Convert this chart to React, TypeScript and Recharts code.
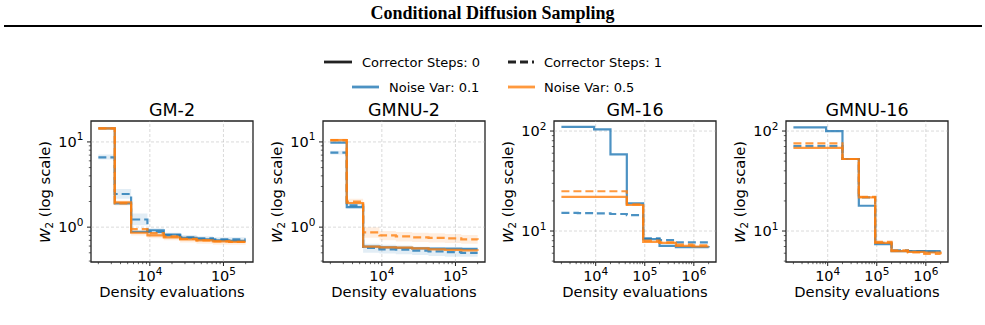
import React from 'react';
import { ComposedChart, Line, Area, XAxis, YAxis, ReferenceLine, ReferenceArea } from 'recharts';

const BLUE = '#1f77b4';
const ORANGE = '#ff7f0e';
const FONT = '"DejaVu Sans", sans-serif';

// ---------- data ----------
const xSmall = [2000, 3340, 5570, 9280, 15500, 25800, 43100, 71900, 119900, 200000];
const xLarge = [2000, 4310, 9280, 20000, 43100, 92800, 200000, 431000, 928000, 2000000];

const xTicksSmall = [2000, 3000, 4000, 5000, 6000, 7000, 8000, 9000, 10000, 20000, 30000, 40000, 50000, 60000, 70000, 80000, 90000, 100000, 200000];
const xTicksLarge = [2000, 3000, 4000, 5000, 6000, 7000, 8000, 9000, 10000, 20000, 30000, 40000, 50000, 60000, 70000, 80000, 90000, 100000, 200000, 300000, 400000, 500000, 600000, 700000, 800000, 900000, 1000000, 2000000];
const yTicksSmall = [0.4, 0.5, 0.6, 0.7, 0.8, 0.9, 1, 2, 3, 4, 5, 6, 7, 8, 9, 10];
const yTicksLarge = [5, 6, 7, 8, 9, 10, 20, 30, 40, 50, 60, 70, 80, 90, 100];

// GM-2
const gm2BlueSolid = [14.4, 1.9, 0.88, 0.92, 0.82, 0.75, 0.72, 0.7, 0.69, 0.69];
const gm2BlueDashed = [6.6, 2.45, 1.23, 0.88, 0.8, 0.76, 0.74, 0.72, 0.72, 0.72];
const gm2OrangeSolid = [14.4, 1.95, 0.86, 0.8, 0.76, 0.72, 0.7, 0.68, 0.67, 0.67];
const gm2OrangeDashed = [14.4, 1.9, 0.95, 0.85, 0.78, 0.73, 0.7, 0.68, 0.67, 0.67];
const gm2BlueDashedLo = [6.2, 2.15, 1.05, 0.8, 0.74, 0.71, 0.69, 0.67, 0.67, 0.67];
const gm2BlueDashedHi = [7.1, 2.8, 1.45, 0.97, 0.86, 0.81, 0.78, 0.76, 0.76, 0.76];
const gm2OrangeSolidLo = [13.8, 1.8, 0.8, 0.74, 0.7, 0.66, 0.64, 0.62, 0.62, 0.62];
const gm2OrangeSolidHi = [15.0, 2.05, 0.92, 0.86, 0.82, 0.78, 0.75, 0.73, 0.72, 0.72];

// GMNU-2
const gmnu2BlueSolid = [9.8, 1.72, 0.59, 0.58, 0.57, 0.565, 0.56, 0.56, 0.555, 0.555];
const gmnu2BlueDashed = [7.5, 1.8, 0.57, 0.55, 0.545, 0.53, 0.52, 0.51, 0.5, 0.5];
const gmnu2OrangeSolid = [10.5, 1.92, 0.59, 0.58, 0.575, 0.565, 0.55, 0.54, 0.535, 0.53];
const gmnu2OrangeDashed = [10.5, 2.0, 0.87, 0.8, 0.78, 0.76, 0.75, 0.74, 0.72, 0.71];
const gmnu2BlueDashedLo = [7.1, 1.65, 0.5, 0.49, 0.48, 0.47, 0.46, 0.45, 0.45, 0.45];
const gmnu2BlueDashedHi = [7.9, 1.95, 0.64, 0.62, 0.61, 0.59, 0.58, 0.57, 0.56, 0.56];
const gmnu2OrangeDashedLo = [10.0, 1.85, 0.75, 0.7, 0.68, 0.67, 0.66, 0.65, 0.64, 0.63];
const gmnu2OrangeDashedHi = [11.0, 2.15, 1.0, 0.9, 0.88, 0.86, 0.85, 0.83, 0.81, 0.8];

// GM-16
const gm16BlueSolid = [110, 110, 104, 58.5, 18.9, 8.3, 7.1, 6.9, 6.9, 6.85];
const gm16BlueDashed = [15.2, 15.1, 15.0, 14.8, 14.4, 8.45, 8.1, 7.7, 7.7, 7.7];
const gm16OrangeSolid = [22.0, 22.0, 22.0, 22.0, 18.2, 7.8, 7.6, 7.1, 7.0, 7.0];
const gm16OrangeDashed = [25.0, 25.0, 25.0, 25.0, 18.5, 8.0, 7.7, 7.3, 7.2, 7.2];

// GMNU-16
const gmnu16BlueSolid = [109, 109, 100, 52.5, 17.9, 7.4, 6.3, 6.3, 6.3, 6.3];
const gmnu16BlueDashed = [70.8, 70.8, 70.8, 52.5, 21.7, 7.6, 6.4, 6.3, 6.2, 6.2];
const gmnu16OrangeSolid = [68, 68, 68, 52.5, 21.7, 7.6, 6.3, 6.2, 6.1, 6.0];
const gmnu16OrangeDashed = [75.3, 75.3, 75.3, 52.5, 22.0, 7.8, 6.4, 6.1, 5.9, 5.85];

const panelTitles = ['GM-2', 'GMNU-2', 'GM-16', 'GMNU-16'];

// ---------- layout ----------
const BOX_W = 162;
const BOX_H = 141;
const BOX_TOP = 121;
const ML = 60;
const MT = 10;
const MR = 10;
const XAX_H = 30;

type Band = { key: string; lo: number[]; hi: number[]; color: string };
type Cfg = {
  title: string;
  left: number;
  xs: number[];
  xDomain: [number, number];
  xTicks: number[];
  xMajors: number[];
  yDomain: [number, number];
  yTicks: number[];
  yMajors: number[];
  bs: number[];
  bd: number[];
  os: number[];
  od: number[];
  bands: Band[];
};

const panels: Cfg[] = [
  {
    title: panelTitles[0], left: 91, xs: xSmall, xDomain: [1589, 251800], xTicks: xTicksSmall, xMajors: [10000, 100000],
    yDomain: [0.39, 17.6], yTicks: yTicksSmall, yMajors: [1, 10],
    bs: gm2BlueSolid, bd: gm2BlueDashed, os: gm2OrangeSolid, od: gm2OrangeDashed,
    bands: [
      { key: 'b1', lo: gm2BlueDashedLo, hi: gm2BlueDashedHi, color: BLUE },
      { key: 'b2', lo: gm2OrangeSolidLo, hi: gm2OrangeSolidHi, color: ORANGE },
    ],
  },
  {
    title: panelTitles[1], left: 323, xs: xSmall, xDomain: [1589, 251800], xTicks: xTicksSmall, xMajors: [10000, 100000],
    yDomain: [0.39, 17.6], yTicks: yTicksSmall, yMajors: [1, 10],
    bs: gmnu2BlueSolid, bd: gmnu2BlueDashed, os: gmnu2OrangeSolid, od: gmnu2OrangeDashed,
    bands: [
      { key: 'b1', lo: gmnu2BlueDashedLo, hi: gmnu2BlueDashedHi, color: BLUE },
      { key: 'b2', lo: gmnu2OrangeDashedLo, hi: gmnu2OrangeDashedHi, color: ORANGE },
    ],
  },
  {
    title: panelTitles[2], left: 554, xs: xLarge, xDomain: [1413, 2830000], xTicks: xTicksLarge, xMajors: [10000, 100000, 1000000],
    yDomain: [4.9, 126], yTicks: yTicksLarge, yMajors: [10, 100],
    bs: gm16BlueSolid, bd: gm16BlueDashed, os: gm16OrangeSolid, od: gm16OrangeDashed,
    bands: [],
  },
  {
    title: panelTitles[3], left: 786, xs: xLarge, xDomain: [1413, 2830000], xTicks: xTicksLarge, xMajors: [10000, 100000, 1000000],
    yDomain: [4.9, 126], yTicks: yTicksLarge, yMajors: [10, 100],
    bs: gmnu16BlueSolid, bd: gmnu16BlueDashed, os: gmnu16OrangeSolid, od: gmnu16OrangeDashed,
    bands: [],
  },
];

function isMajor(v: number) {
  const l = Math.log10(v);
  return Math.abs(l - Math.round(l)) < 1e-6;
}

const XTick = (props: any) => {
  const { x, y, payload } = props;
  const v = payload.value;
  const major = isMajor(v);
  const e = Math.round(Math.log10(v));
  return (
    <g>
      <line x1={x} x2={x} y1={y} y2={y + (major ? 4 : 2.2)} stroke="#222" strokeWidth={major ? 1 : 0.7} />
      {major && (
        <text x={x} y={y + 19} textAnchor="middle" fontSize={14.5} fontFamily={FONT} fill="#000">
          10<tspan dy={-6.5} fontSize={10.5}>{e}</tspan>
        </text>
      )}
    </g>
  );
};

const YTick = (props: any) => {
  const { x, y, payload } = props;
  const v = payload.value;
  const major = isMajor(v);
  const e = Math.round(Math.log10(v));
  return (
    <g>
      <line x1={x} x2={x - (major ? 4 : 2.2)} y1={y} y2={y} stroke="#222" strokeWidth={major ? 1 : 0.7} />
      {major && (
        <text x={x - 7.5} y={y + 5} textAnchor="end" fontSize={14.5} fontFamily={FONT} fill="#000">
          10<tspan dy={-6.5} fontSize={10.5}>{e}</tspan>
        </text>
      )}
    </g>
  );
};

function Panel({ cfg }: { cfg: Cfg }) {
  const data = cfg.xs.map((x, i) => {
    const row: any = { x, bs: cfg.bs[i], bd: cfg.bd[i], os: cfg.os[i], od: cfg.od[i] };
    cfg.bands.forEach((b) => {
      row[b.key] = [b.lo[i], b.hi[i]];
    });
    return row;
  });
  const W = ML + BOX_W + MR;
  const H = MT + BOX_H + XAX_H;
  const lineW = 2.2;
  return (
    <div style={{ position: 'absolute', left: cfg.left - ML, top: BOX_TOP - MT }}>
      <ComposedChart width={W} height={H} data={data} margin={{ top: MT, right: MR, bottom: 0, left: 0 }}>
        <XAxis
          dataKey="x"
          type="number"
          scale="log"
          domain={cfg.xDomain}
          allowDataOverflow
          ticks={cfg.xTicks}
          interval={0}
          tickSize={0}
          tickMargin={0}
          axisLine={false}
          tickLine={false}
          tick={(p: any) => <XTick {...p} />}
          height={XAX_H}
        />
        <YAxis
          type="number"
          scale="log"
          domain={cfg.yDomain}
          allowDataOverflow
          ticks={cfg.yTicks}
          interval={0}
          tickSize={0}
          tickMargin={0}
          axisLine={false}
          tickLine={false}
          tick={(p: any) => <YTick {...p} />}
          width={ML}
        />
        {cfg.bands.map((b) => (
          <Area
            key={b.key}
            dataKey={b.key}
            type="stepAfter"
            stroke="none"
            fill={b.color}
            fillOpacity={0.13}
            isAnimationActive={false}
            activeDot={false}
          />
        ))}
        {cfg.xMajors.map((v) => (
          <ReferenceLine key={'gx' + v} x={v} stroke="#b0b0b0" strokeOpacity={0.6} strokeDasharray="3 2" strokeWidth={0.8} />
        ))}
        {cfg.yMajors.map((v) => (
          <ReferenceLine key={'gy' + v} y={v} stroke="#b0b0b0" strokeOpacity={0.6} strokeDasharray="3 2" strokeWidth={0.8} />
        ))}
        <Line dataKey="bs" type="stepAfter" stroke={BLUE} strokeOpacity={0.8} strokeWidth={lineW} dot={false} activeDot={false} isAnimationActive={false} />
        <Line dataKey="bd" type="stepAfter" stroke={BLUE} strokeOpacity={0.8} strokeWidth={lineW} strokeDasharray="8 4" dot={false} activeDot={false} isAnimationActive={false} />
        <Line dataKey="os" type="stepAfter" stroke={ORANGE} strokeOpacity={0.8} strokeWidth={lineW} dot={false} activeDot={false} isAnimationActive={false} />
        <Line dataKey="od" type="stepAfter" stroke={ORANGE} strokeOpacity={0.8} strokeWidth={lineW} strokeDasharray="8 4" dot={false} activeDot={false} isAnimationActive={false} />
        <ReferenceArea
          x1={cfg.xDomain[0]}
          x2={cfg.xDomain[1]}
          y1={cfg.yDomain[0]}
          y2={cfg.yDomain[1]}
          fill="none"
          fillOpacity={0}
          stroke="#222"
          strokeWidth={1.3}
          ifOverflow="visible"
        />
      </ComposedChart>
    </div>
  );
}

function PanelTexts({ cfg }: { cfg: Cfg }) {
  const cx = cfg.left + BOX_W / 2;
  const yLabelX = cfg.left - 46.5;
  const yLabelY = BOX_TOP + BOX_H / 2;
  return (
    <>
      <div
        style={{
          position: 'absolute', left: cx - 100, width: 200, top: 100, lineHeight: '20px',
          textAlign: 'center', fontFamily: FONT, fontSize: 17.5, color: '#000', whiteSpace: 'nowrap',
        }}
      >
        {cfg.title}
      </div>
      <div
        style={{
          position: 'absolute', left: cx - 100, width: 200, top: 283, lineHeight: '17px',
          textAlign: 'center', fontFamily: FONT, fontSize: 14.7, color: '#000', whiteSpace: 'nowrap',
        }}
      >
        Density evaluations
      </div>
      <div
        style={{
          position: 'absolute', left: yLabelX - 100, width: 200, top: yLabelY - 9, height: 18, lineHeight: '18px',
          textAlign: 'center', fontFamily: FONT, fontSize: 14.7, color: '#000', whiteSpace: 'nowrap',
          transform: 'rotate(-90deg)', transformOrigin: '50% 50%',
        }}
      >
        <span style={{ fontStyle: 'italic' }}>W</span>
        <span style={{ fontSize: '0.7em', position: 'relative', top: '0.3em' }}>2</span> (log scale)
      </div>
    </>
  );
}

function Legend() {
  const txt = { fontFamily: FONT, fontSize: 13, fill: '#000' } as const;
  return (
    <svg width={985} height={100} style={{ position: 'absolute', left: 0, top: 0 }}>
      <line x1={324} x2={352} y1={62} y2={62} stroke="#222" strokeWidth={2.8} />
      <text x={362} y={66.5} {...txt}>Corrector Steps: 0</text>
      <line x1={508} x2={534} y1={62} y2={62} stroke="#222" strokeWidth={2.8} strokeDasharray="8 4" />
      <text x={544} y={66.5} {...txt}>Corrector Steps: 1</text>
      <line x1={352} x2={379} y1={87} y2={87} stroke={BLUE} strokeOpacity={0.8} strokeWidth={2.8} />
      <text x={389} y={91.5} {...txt}>Noise Var: 0.1</text>
      <line x1={508} x2={535} y1={87} y2={87} stroke={ORANGE} strokeOpacity={0.8} strokeWidth={2.8} />
      <text x={544} y={91.5} {...txt}>Noise Var: 0.5</text>
    </svg>
  );
}

export default function App() {
  return (
    <div style={{ position: 'absolute', left: 0, top: 0, width: 985, height: 325, background: '#fff', overflow: 'hidden' }}>
      <div
        style={{
          position: 'absolute', left: 0, width: 985, top: 3, lineHeight: '20px', textAlign: 'center',
          fontFamily: '"Liberation Serif", "Times New Roman", serif', fontWeight: 'bold', fontSize: 18, color: '#000',
        }}
      >
        Conditional Diffusion Sampling
      </div>
      <div style={{ position: 'absolute', left: 4, width: 978, top: 25, height: 2.2, background: '#000' }} />
      <Legend />
      {panels.map((p) => (
        <Panel key={p.title} cfg={p} />
      ))}
      {panels.map((p) => (
        <PanelTexts key={'t' + p.title} cfg={p} />
      ))}
    </div>
  );
}
